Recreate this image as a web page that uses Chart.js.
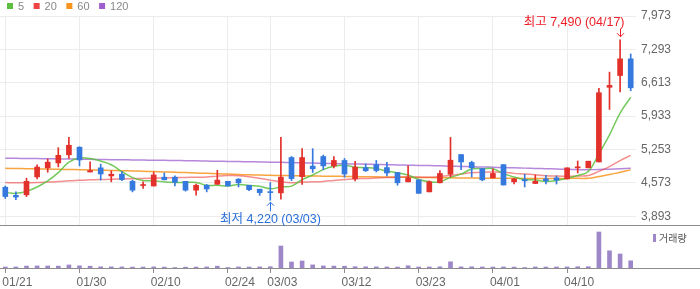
<!DOCTYPE html>
<html>
<head>
<meta charset="utf-8">
<script src="https://cdn.jsdelivr.net/npm/chart.js@4.4.1/dist/chart.umd.min.js"></script>
<style>
  body { margin: 0; background: #fff; }
  #wrap { position: relative; width: 700px; height: 289px; }
  #priceChart { position: absolute; left: 0; top: 0; }
  #volChart { position: absolute; left: 0; top: 226px; }
</style>
</head>
<body>
<div id="wrap">
  <canvas id="priceChart" width="700" height="226"></canvas>
  <canvas id="volChart" width="700" height="63"></canvas>
</div>
<script>
const dates = ['01/21','01/22','01/23','01/26','01/27','01/28','01/29','01/30','02/02','02/03',
  '02/04','02/05','02/06','02/09','02/10','02/11','02/12','02/13','02/19','02/20',
  '02/23','02/24','02/25','02/26','02/27','03/03','03/04','03/05','03/06','03/09',
  '03/10','03/11','03/12','03/13','03/16','03/17','03/18','03/19','03/20','03/23',
  '03/24','03/25','03/26','03/27','03/30','03/31','04/01','04/02','04/03','04/06',
  '04/07','04/08','04/09','04/10','04/13','04/14','04/15','04/16','04/17','04/20'];

const opens = [4485,4320,4330,4695,4880,4980,5145,5300,4795,4880,
  4715,4750,4605,4520,4510,4690,4690,4605,4425,4525,
  4545,4605,4650,4525,4445,4390,4370,5090,4700,4915,
  5110,4920,5030,4655,4885,4945,4885,4785,4595,4635,
  4390,4575,4750,5150,4990,4865,4675,4945,4595,4640,
  4560,4655,4675,4655,4880,4880,5000,6520,6760,7100];
const highs = [4510,4390,4670,4940,5060,5290,5500,5310,5000,4955,
  4820,4805,4630,4595,4795,4775,4715,4605,4550,4540,
  4830,4605,4660,4525,4445,4580,5500,5110,5270,5270,
  5140,5110,5070,5010,4960,5030,4990,4790,4920,4635,
  4615,4825,5500,5150,5015,4865,4860,4945,4660,4750,
  4735,4725,4715,4880,5020,5015,6500,6830,7490,7200];
const lows = [4255,4230,4295,4655,4790,4900,5070,4920,4795,4630,
  4595,4620,4390,4460,4510,4635,4510,4405,4325,4390,
  4545,4510,4490,4415,4320,4220,4240,4620,4540,4785,
  4845,4880,4690,4615,4805,4795,4715,4525,4595,4360,
  4390,4575,4695,4840,4695,4615,4675,4530,4550,4490,
  4560,4550,4550,4655,4775,4880,5000,6070,6425,6450];
const closes = [4295,4285,4605,4895,4995,5135,5340,5040,4825,4755,
  4750,4640,4425,4525,4735,4635,4585,4425,4525,4450,
  4630,4510,4575,4435,4375,4375,4690,4660,5090,4860,
  4920,5030,4755,4895,4820,4825,4775,4575,4675,4360,
  4595,4765,5035,5000,4880,4635,4765,4530,4655,4615,
  4605,4615,4630,4880,4900,5015,6410,6560,7100,6510];

const ma5 = [4380,4360,4400,4490,4615,4783,4994,5082,5068,5020,
  4943,4803,4680,4620,4616,4593,4582,4582,4582,4525,
  4524,4509,4538,4519,4504,4454,4490,4507,4639,4735,
  4844,4912,4931,4892,4883,4864,4814,4777,4734,4642,
  4596,4594,4686,4751,4855,4863,4863,4762,4693,4640,
  4634,4604,4623,4668,4725,4807,5166,5552,5996,6318];
const ma20 = [4580,4575,4575,4580,4590,4600,4615,4625,4635,4640,
  4648,4655,4660,4665,4670,4675,4680,4684,4688,4694,
  4711,4722,4720,4698,4667,4629,4596,4577,4590,4595,
  4604,4623,4640,4658,4662,4672,4681,4688,4696,4691,
  4690,4702,4725,4754,4779,4792,4796,4789,4767,4755,
  4739,4719,4712,4711,4715,4725,4807,4906,5027,5134];
const ma60 = [4870,4866,4862,4858,4854,4850,4846,4842,4837,4832,
  4827,4822,4816,4810,4804,4797,4790,4783,4776,4768,
  4760,4752,4745,4738,4732,4727,4723,4720,4717,4714,
  4711,4708,4705,4702,4699,4696,4693,4690,4687,4684,
  4681,4678,4676,4674,4672,4670,4668,4667,4666,4665,
  4664,4664,4664,4665,4666,4668,4703,4742,4790,4838];
const ma120 = [5077,5074,5071,5068,5065,5062,5059,5056,5053,5050,
  5047,5044,5041,5038,5035,5032,5029,5026,5022,5018,
  5014,5011,5008,5004,5000,4996,4992,4987,4982,4977,
  4972,4967,4962,4958,4954,4950,4945,4940,4935,4930,
  4925,4920,4914,4908,4902,4897,4892,4886,4880,4874,
  4868,4862,4856,4850,4844,4840,4846,4853,4861,4870];

const volumes = [250000,260000,480000,520000,500000,470000,760000,540000,450000,300000,
  280000,260000,240000,230000,280000,220000,110000,210000,230000,260000,
  450000,120000,260000,240000,270000,310000,5500000,1500000,1750000,780000,
  520000,480000,450000,330000,300000,280000,260000,240000,560000,250000,
  260000,300000,1550000,280000,300000,250000,240000,260000,230000,110000,
  250000,240000,260000,270000,320000,330000,9000000,4300000,3500000,1800000];

const tickDates = ['01/21','01/30','02/10','02/24','03/03','03/12','03/23','04/01','04/10'];
const yTicks = [3893,4573,5253,5933,6613,7293,7973];
const maLabels = ['5','20','60','120'];

const RED = '#e2302b', BLUE = '#3579de';
const GRID = '#ececec', AXIS = '#8c8c8c';
const legendColors = ['#5cbf41','#ee4444','#f7941d','#9e5fce'];
const lineColors = ['rgba(92,191,65,0.85)','rgba(238,68,68,0.6)','rgba(247,148,29,0.85)','rgba(158,95,206,0.75)'];
const FONT = '"Liberation Sans", Arial, "Noto Sans CJK KR", sans-serif';

const isTick = i => tickDates.includes(dates[i]);
const candleColor = ctx => closes[ctx.dataIndex] >= opens[ctx.dataIndex] ? RED : BLUE;

const priceExtras = {
  id: 'priceExtras',
  afterDraw(chart) {
    const {ctx, chartArea, scales: {x, y}} = chart;
    ctx.save();
    ctx.strokeStyle = AXIS;
    ctx.lineWidth = 1;
    ctx.beginPath();
    ctx.moveTo(0, chartArea.bottom - 0.5);
    ctx.lineTo(chart.width, chartArea.bottom - 0.5);
    ctx.stroke();

    // legend
    ctx.font = '11px ' + FONT;
    ctx.textBaseline = 'middle';
    ctx.textAlign = 'left';
    let lx = 7;
    maLabels.forEach((lab, k) => {
      ctx.fillStyle = legendColors[k];
      ctx.fillRect(lx, 3, 6, 6);
      ctx.fillStyle = '#888';
      ctx.fillText(lab, lx + 11, 6.5);
      lx += 11 + ctx.measureText(lab).width + 9.5;
    });

    // highest / lowest marks
    const hi = highs.indexOf(Math.max(...highs));
    const lo = lows.indexOf(Math.min(...lows));
    ctx.font = '12.5px ' + FONT;
    ctx.lineWidth = 1;

    let px = Math.round(x.getPixelForValue(hi)) + 0.5;
    let py = y.getPixelForValue(highs[hi]);
    ctx.strokeStyle = '#ec1c24';
    ctx.fillStyle = '#ec1c24';
    ctx.beginPath();
    ctx.moveTo(px, py - 11); ctx.lineTo(px, py - 3);
    ctx.moveTo(px - 3.5, py - 6.5); ctx.lineTo(px, py - 3); ctx.lineTo(px + 3.5, py - 6.5);
    ctx.stroke();
    let txt = '최고 ' + highs[hi].toLocaleString('en-US') + ' (' + dates[hi] + ')';
    let w = ctx.measureText(txt).width;
    if (px + w / 2 > chartArea.right) { ctx.textAlign = 'right'; ctx.fillText(txt, px + 4, py - 17); }
    else { ctx.textAlign = 'center'; ctx.fillText(txt, px, py - 17); }

    px = Math.round(x.getPixelForValue(lo)) + 0.5;
    py = y.getPixelForValue(lows[lo]);
    ctx.strokeStyle = '#2a6fdb';
    ctx.fillStyle = '#2a6fdb';
    ctx.beginPath();
    ctx.moveTo(px, py + 2); ctx.lineTo(px, py + 11);
    ctx.moveTo(px - 3.5, py + 5.5); ctx.lineTo(px, py + 2); ctx.lineTo(px + 3.5, py + 5.5);
    ctx.stroke();
    txt = '최저 ' + lows[lo].toLocaleString('en-US') + ' (' + dates[lo] + ')';
    w = ctx.measureText(txt).width;
    if (px - w / 2 < chartArea.left) { ctx.textAlign = 'left'; ctx.fillText(txt, px - 4, py + 19); }
    else { ctx.textAlign = 'center'; ctx.fillText(txt, px, py + 19); }
    ctx.restore();
  }
};

const volExtras = {
  id: 'volExtras',
  afterDraw(chart) {
    const {ctx, chartArea} = chart;
    ctx.save();
    ctx.strokeStyle = AXIS;
    ctx.lineWidth = 1;
    ctx.beginPath();
    ctx.moveTo(0, chartArea.bottom + 0.5);
    ctx.lineTo(chart.width, chartArea.bottom + 0.5);
    ctx.stroke();
    ctx.fillStyle = '#9d87c9';
    ctx.fillRect(653, 8, 3, 8);
    ctx.fillStyle = '#555';
    ctx.font = '10px "Noto Sans CJK KR", sans-serif';
    ctx.textBaseline = 'middle';
    ctx.fillText('거래량', 659, 12);
    ctx.restore();
  }
};

const priceChart = new Chart(document.getElementById('priceChart'), {
  type: 'bar',
  data: {
    labels: dates,
    datasets: [{
      type: 'bar',
      label: 'body',
      data: opens.map((o, i) => [o, closes[i]]),
      backgroundColor: candleColor,
      barThickness: 5,
      minBarLength: 1,
      grouped: false,
      order: 1
    }, {
      type: 'bar',
      label: 'wick',
      data: lows.map((l, i) => [l, highs[i]]),
      backgroundColor: candleColor,
      barThickness: 1,
      grouped: false,
      order: 2
    },
    ...[ma5, ma20, ma60, ma120].map((d, k) => ({
      type: 'line',
      label: maLabels[k],
      data: d,
      borderColor: lineColors[k],
      borderWidth: 1.5,
      pointRadius: 0,
      tension: 0.4,
      order: 3 + k
    }))]
  },
  options: {
    responsive: false,
    animation: false,
    layout: { padding: { top: 16, left: 0, right: 0, bottom: 0 } },
    plugins: { legend: { display: false }, tooltip: { enabled: false } },
    scales: {
      x: {
        offset: true,
        afterFit: s => { s.height = 0; s.paddingLeft = 0; s.paddingRight = 0; },
        grid: {
          offset: false,
          drawTicks: false,
          color: ctx => isTick(ctx.index) ? GRID : 'transparent'
        },
        border: { display: false },
        ticks: { display: false, autoSkip: false }
      },
      y: {
        position: 'right',
        min: 3695,
        max: 7973,
        afterBuildTicks: s => { s.ticks = yTicks.map(v => ({ value: v })); },
        afterFit: s => { s.width = 64; s.paddingTop = 0; s.paddingBottom = 0; },
        grid: { color: GRID, drawTicks: false },
        border: { display: false },
        ticks: {
          padding: 5,
          color: '#666',
          font: { size: 12, family: FONT },
          callback: v => v.toLocaleString('en-US')
        }
      }
    }
  },
  plugins: [priceExtras]
});

const volChart = new Chart(document.getElementById('volChart'), {
  type: 'bar',
  data: {
    labels: dates,
    datasets: [{
      label: '거래량',
      data: volumes,
      backgroundColor: '#9d87c9',
      barThickness: 4
    }]
  },
  options: {
    responsive: false,
    animation: false,
    layout: { padding: { top: 0, right: 64, left: 0, bottom: 0 } },
    plugins: { legend: { display: false }, tooltip: { enabled: false } },
    scales: {
      x: {
        offset: true,
        afterFit: s => { s.height = 21; s.paddingLeft = 0; s.paddingRight = 0; },
        grid: {
          offset: false,
          drawOnChartArea: false,
          tickLength: 5,
          tickColor: ctx => isTick(ctx.index) ? AXIS : 'transparent'
        },
        border: { display: false },
        ticks: {
          autoSkip: false,
          maxRotation: 0,
          padding: 2,
          labelOffset: 12,
          color: '#666',
          font: { size: 12, family: FONT },
          callback: (v, i) => isTick(i) ? dates[i] : ''
        }
      },
      y: { display: false, min: 0, max: 10500000 }
    }
  },
  plugins: [volExtras]
});
</script>
</body>
</html>
